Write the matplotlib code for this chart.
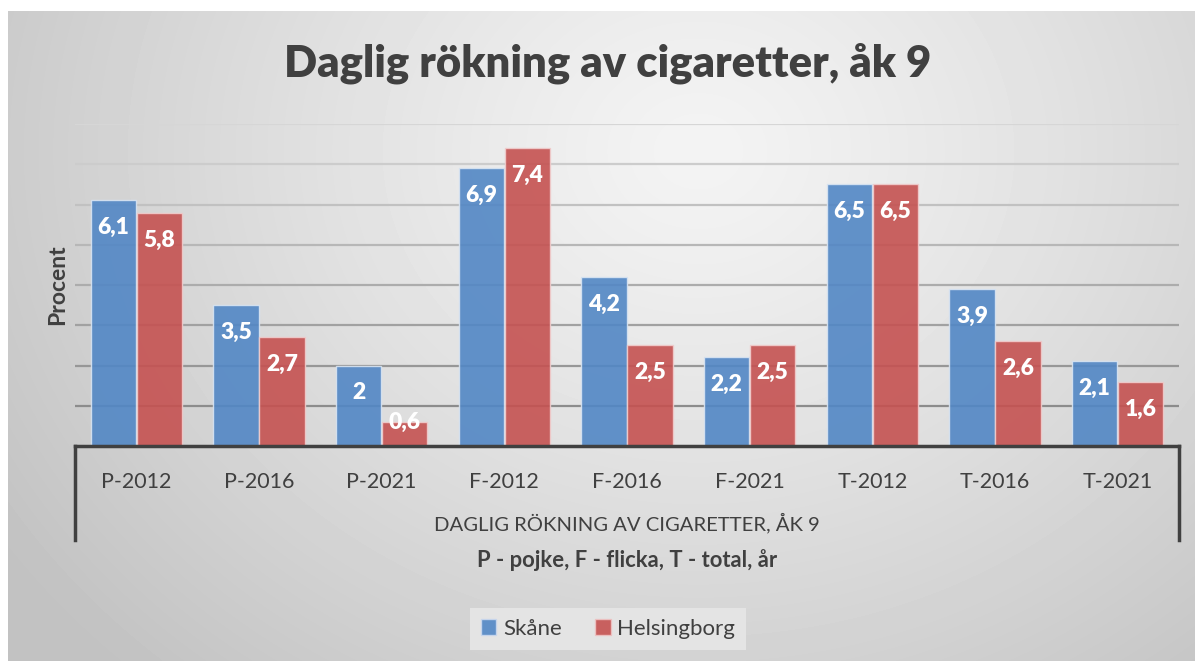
import numpy as np
import matplotlib.pyplot as plt
from matplotlib.patches import Patch

categories = ["P-2012", "P-2016", "P-2021", "F-2012", "F-2016", "F-2021",
              "T-2012", "T-2016", "T-2021"]
skane = [6.1, 3.5, 2, 6.9, 4.2, 2.2, 6.5, 3.9, 2.1]
helsingborg = [5.8, 2.7, 0.6, 7.4, 2.5, 2.5, 6.5, 2.6, 1.6]
series_names = ["Skåne", "Helsingborg"]

W, H = 1195, 661
plt.rcParams["font.family"] = ["Lato", "DejaVu Sans"]
TXT = "#404040"

fig = plt.figure(figsize=(W / 100, H / 100), dpi=100, facecolor="white")

# gray radial background panel
bg = fig.add_axes([8 / W, 0, 1 - 8 / W, 1 - 11 / H], zorder=-5)
yy, xx = np.mgrid[0:650, 0:1187]
d = np.hypot((xx - 690) / 1.0, (yy - 140) / 0.85)
shade = np.clip(0.955 - 0.19 * (d / 820) ** 1.2, 0.76, 0.96)
bg.imshow(shade, cmap="gray", vmin=0, vmax=1, aspect="auto",
          extent=[0, 1, 0, 1], origin="upper")
bg.axis("off")

# plot area
ax = fig.add_axes([75 / W, 1 - 446 / H, (1179 - 75) / W, (446 - 124) / H])
ax.patch.set_alpha(0)
ax.set_xlim(-0.5, len(categories) - 0.5)
ax.set_ylim(0, 8)

# gridlines (lighter towards the top)
for k in range(1, 9):
    g = 0.55 + 0.29 * (k - 1) / 7
    ax.axhline(k, color=(g, g, g), lw=1.6, zorder=1)

x = np.arange(len(categories))
w = 0.367
off = w / 2 + 0.004
ax.bar(x - off, skane, w, color="#5287C5", alpha=0.9,
       edgecolor="#d8e4f2", linewidth=1, zorder=2)
ax.bar(x + off, helsingborg, w, color="#C55251", alpha=0.9,
       edgecolor="#f0cccc", linewidth=1, zorder=2)

def fmt(v):
    return f"{v:g}".replace(".", ",")

for xs, vals in ((x - off, skane), (x + off, helsingborg)):
    for xi, v in zip(xs, vals):
        yl = v - 0.68 if v > 1 else v * 0.97
        ax.text(xi, yl, fmt(v), ha="center", va="center", color="white",
                fontsize=16.5, fontweight="heavy", zorder=4)

for s in ax.spines.values():
    s.set_visible(False)
ax.axhline(0, color=TXT, lw=2.5, zorder=5, clip_on=False)
drop = -94 / 322
for xa in (0, 1):
    ax.plot([xa, xa], [0, drop], transform=ax.transAxes, color=TXT,
            lw=2.5, clip_on=False, zorder=5)

ax.set_yticks([])
ax.set_xticks(x)
ax.set_xticklabels(categories, fontsize=15.5, color=TXT)
ax.tick_params(axis="x", length=0, pad=19)

ax.set_ylabel("Procent", fontsize=16.5, fontweight="bold", color=TXT, labelpad=5)

fig.text(627 / W, 1 - 523 / H, "DAGLIG RÖKNING AV CIGARETTER, ÅK 9",
         ha="center", va="center", fontsize=14.6, color=TXT)
fig.text(627 / W, 1 - 560 / H, "P - pojke, F - flicka, T - total, år",
         ha="center", va="center", fontsize=15.8, fontweight="bold", color=TXT)

fig.text(608 / W, 1 - 63 / H, "Daglig rökning av cigaretter, åk 9",
         ha="center", va="center", fontsize=31.3, fontweight="heavy", color=TXT)

handles = [Patch(facecolor="#5287C5", edgecolor="#c9d8ee", alpha=0.9),
           Patch(facecolor="#C55251", edgecolor="#eec3c3", alpha=0.9)]
leg = fig.legend(handles, series_names, loc="center", ncol=2,
                 bbox_to_anchor=(608 / W, 1 - 629 / H), fontsize=16,
                 frameon=True, fancybox=False, handlelength=0.7,
                 handleheight=0.7, handletextpad=0.3, columnspacing=1.5,
                 borderpad=0.5, labelcolor=TXT)
leg.get_frame().set_facecolor("#e4e4e4")
leg.get_frame().set_edgecolor("none")
leg.get_frame().set_alpha(1)

fig.savefig("out.png", dpi=100, facecolor="white")
